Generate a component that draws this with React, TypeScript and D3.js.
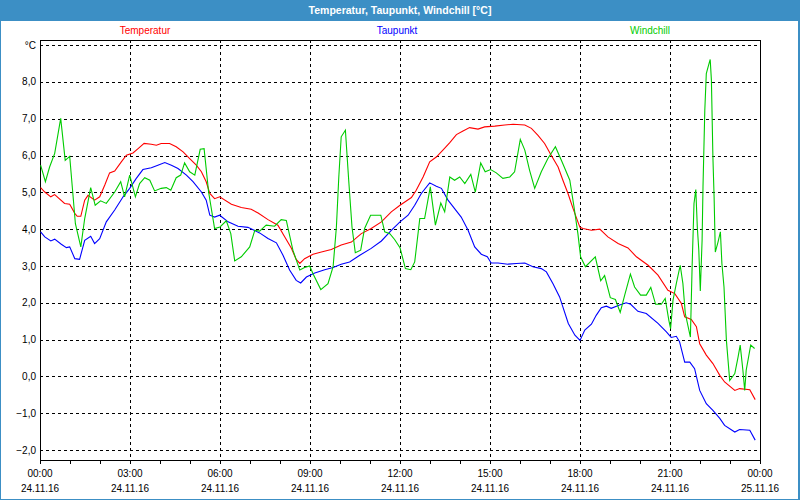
import * as d3 from "d3";
import { useEffect, useRef } from "react";

// hour of day (0-24), value in °C
const temperatur: [number, number][] = [
  [0.02, 5.13], [0.16, 5.01], [0.36, 4.88], [0.49, 4.94], [0.82, 4.7], [0.99, 4.68], [1.16, 4.43], [1.24, 4.35],
  [1.36, 4.35], [1.49, 4.79], [1.6, 4.92], [1.82, 4.79], [1.99, 4.88], [2.16, 5.2], [2.32, 5.53], [2.49, 5.58],
  [2.71, 5.83], [2.88, 6.01], [3.1, 6.07], [3.27, 6.19], [3.47, 6.33], [3.71, 6.31], [3.88, 6.28], [4.04, 6.33],
  [4.32, 6.33], [4.54, 6.24], [4.77, 6.1], [4.99, 5.92], [5.21, 5.74], [5.38, 5.56], [5.54, 5.29], [5.66, 4.97],
  [5.82, 4.83], [5.99, 4.88], [6.38, 4.68], [6.71, 4.59], [7.04, 4.54], [7.27, 4.44], [7.6, 4.26], [7.93, 4.11],
  [8.16, 3.79], [8.38, 3.48], [8.54, 3.18], [8.66, 3.07], [8.82, 3.2], [9.1, 3.32], [9.38, 3.38], [9.71, 3.45],
  [10.04, 3.57], [10.38, 3.65], [10.71, 3.88], [11.04, 4.02], [11.38, 4.2], [11.71, 4.47], [12.0, 4.65],
  [12.16, 4.74], [12.38, 4.86], [12.54, 5.06], [12.77, 5.42], [12.99, 5.83], [13.21, 5.96], [13.43, 6.15],
  [13.66, 6.35], [13.88, 6.57], [14.1, 6.67], [14.32, 6.76], [14.6, 6.72], [14.82, 6.78], [15.16, 6.8],
  [15.49, 6.83], [15.77, 6.85], [16.16, 6.83], [16.38, 6.74], [16.6, 6.55], [16.82, 6.33], [17.04, 6.01],
  [17.27, 5.69], [17.43, 5.33], [17.6, 4.97], [17.77, 4.56], [17.93, 4.2], [18.0, 4.05], [18.1, 4.02],
  [18.38, 3.97], [18.66, 4.0], [18.93, 3.79], [19.27, 3.61], [19.6, 3.49], [19.88, 3.25], [20.27, 3.02],
  [20.6, 2.75], [20.93, 2.34], [21.16, 2.25], [21.38, 1.98], [21.49, 1.62], [21.71, 1.55], [21.88, 1.35],
  [21.99, 0.89], [22.21, 0.58], [22.43, 0.35], [22.66, 0.03], [22.82, -0.15], [23.16, -0.38], [23.32, -0.33],
  [23.66, -0.36], [23.84, -0.63],
];

const taupunkt: [number, number][] = [
  [0.02, 3.93], [0.16, 3.79], [0.36, 3.68], [0.49, 3.73], [0.71, 3.59], [0.88, 3.5], [0.99, 3.52], [1.16, 3.2],
  [1.32, 3.18], [1.49, 3.7], [1.69, 3.81], [1.82, 3.61], [1.99, 3.74], [2.21, 4.2], [2.49, 4.52], [2.77, 4.88],
  [2.99, 5.11], [3.21, 5.38], [3.43, 5.62], [3.71, 5.67], [3.93, 5.74], [4.16, 5.81], [4.38, 5.74], [4.6, 5.65],
  [4.88, 5.47], [5.1, 5.29], [5.38, 5.01], [5.54, 4.79], [5.66, 4.38], [5.82, 4.33], [5.99, 4.38], [6.27, 4.2],
  [6.6, 4.08], [6.93, 4.05], [7.32, 3.9], [7.6, 3.75], [7.88, 3.63], [8.1, 3.29], [8.32, 2.89], [8.54, 2.61],
  [8.69, 2.54], [8.88, 2.7], [9.16, 2.81], [9.49, 2.9], [9.77, 2.96], [10.04, 3.05], [10.32, 3.11],
  [10.66, 3.29], [11.04, 3.48], [11.38, 3.68], [11.71, 3.97], [12.0, 4.2], [12.27, 4.38], [12.49, 4.65],
  [12.71, 4.97], [12.99, 5.26], [13.21, 5.17], [13.38, 5.11], [13.6, 4.79], [13.82, 4.56], [14.04, 4.33],
  [14.27, 3.97], [14.49, 3.52], [14.71, 3.32], [14.91, 3.25], [15.04, 3.08], [15.27, 3.08], [15.6, 3.05],
  [15.88, 3.07], [16.16, 3.08], [16.43, 2.98], [16.71, 2.93], [16.88, 2.84], [17.1, 2.52], [17.32, 2.16],
  [17.61, 1.44], [17.83, 1.12], [18.0, 0.98], [18.16, 1.26], [18.38, 1.42], [18.54, 1.66], [18.71, 1.87],
  [18.88, 1.91], [19.04, 1.85], [19.32, 1.94], [19.54, 2.0], [19.69, 1.96], [19.93, 1.77], [20.21, 1.71],
  [20.6, 1.44], [20.88, 1.21], [21.04, 1.06], [21.21, 1.09], [21.32, 0.94], [21.49, 0.39], [21.66, 0.39],
  [21.82, 0.21], [21.99, -0.38], [22.21, -0.74], [22.43, -0.92], [22.66, -1.14], [22.82, -1.33],
  [23.16, -1.51], [23.32, -1.44], [23.66, -1.46], [23.84, -1.73],
];

const windchill: [number, number][] = [
  [0.02, 5.74], [0.18, 5.29], [0.32, 5.69], [0.49, 6.06], [0.69, 7.01], [0.84, 5.87], [0.99, 5.98], [1.18, 4.15],
  [1.36, 3.52], [1.49, 4.29], [1.69, 5.13], [1.84, 4.65], [2.02, 4.77], [2.21, 4.7], [2.49, 5.01], [2.69, 5.29],
  [2.82, 4.88], [2.99, 5.47], [3.18, 4.88], [3.32, 5.24], [3.49, 5.4], [3.66, 5.33], [3.82, 5.04], [4.04, 5.11],
  [4.21, 5.13], [4.36, 5.06], [4.54, 5.4], [4.69, 5.47], [4.82, 5.8], [4.99, 5.56], [5.16, 5.47], [5.34, 6.17],
  [5.47, 6.19], [5.62, 5.01], [5.82, 4.02], [6.0, 4.06], [6.21, 4.23], [6.36, 3.88], [6.49, 3.14], [6.71, 3.25],
  [6.99, 3.52], [7.16, 3.97], [7.32, 3.95], [7.54, 4.11], [7.82, 4.08], [8.04, 4.26], [8.21, 4.24], [8.43, 3.43],
  [8.66, 2.89], [8.82, 2.96], [8.99, 3.0], [9.1, 2.79], [9.36, 2.36], [9.6, 2.52], [9.77, 2.98], [9.88, 4.06],
  [9.96, 5.42], [10.04, 6.51], [10.18, 6.69], [10.29, 5.33], [10.4, 4.06], [10.51, 3.36], [10.69, 3.43],
  [10.82, 4.02], [11.02, 4.38], [11.36, 4.38], [11.49, 3.93], [11.66, 3.88], [11.82, 3.72], [12.0, 3.5],
  [12.18, 2.93], [12.36, 2.9], [12.49, 3.11], [12.66, 4.29], [12.82, 4.29], [13.01, 5.15], [13.18, 4.11],
  [13.36, 4.71], [13.49, 4.47], [13.66, 5.42], [13.82, 5.33], [13.99, 5.42], [14.16, 5.24], [14.36, 5.49],
  [14.51, 5.01], [14.69, 5.8], [14.84, 5.56], [15.02, 5.62], [15.21, 5.53], [15.43, 5.38], [15.66, 5.42],
  [15.82, 5.56], [16.01, 6.44], [16.16, 6.15], [16.32, 5.6], [16.49, 5.11], [16.71, 5.56], [16.93, 5.92],
  [17.18, 6.24], [17.4, 5.83], [17.66, 5.33], [17.8, 4.61], [17.93, 3.88], [18.02, 3.25], [18.18, 2.98],
  [18.51, 3.25], [18.69, 2.6], [18.82, 2.74], [19.01, 2.14], [19.18, 2.09], [19.34, 1.74], [19.49, 2.21],
  [19.68, 2.78], [19.82, 2.43], [20.02, 2.21], [20.21, 2.21], [20.36, 2.42], [20.52, 1.96], [20.71, 1.96],
  [20.84, 2.12], [20.96, 1.53], [21.02, 1.3], [21.1, 2.07], [21.21, 2.52], [21.34, 3.02], [21.43, 2.52],
  [21.51, 1.71], [21.68, 1.07], [21.74, 3.07], [21.8, 4.7], [21.86, 5.08], [21.91, 4.06], [21.96, 3.43],
  [22.01, 2.32], [22.07, 3.7], [22.1, 5.15], [22.16, 7.23], [22.21, 8.23], [22.3, 8.5], [22.34, 8.61],
  [22.38, 8.05], [22.43, 5.96], [22.47, 4.88], [22.51, 3.38], [22.6, 3.65], [22.68, 3.93], [22.73, 3.07],
  [22.8, 2.43], [22.88, 0.98], [22.99, -0.11], [23.16, 0.08], [23.27, 0.53], [23.34, 0.85], [23.43, 0.17],
  [23.49, -0.38], [23.54, 0.17], [23.62, 0.53], [23.69, 0.85], [23.82, 0.76],
];

const seriesNames = ["Temperatur", "Taupunkt", "Windchill"];
const seriesColors = ["#ff0000", "#0000ff", "#00cc00"];

const xTickHours = [0, 3, 6, 9, 12, 15, 18, 21, 24];
const xTimeLabels = ["00:00", "03:00", "06:00", "09:00", "12:00", "15:00", "18:00", "21:00", "00:00"];
const xDateLabels = ["24.11.16", "24.11.16", "24.11.16", "24.11.16", "24.11.16", "24.11.16", "24.11.16", "24.11.16", "25.11.16"];
const yTicks = [-2, -1, 0, 1, 2, 3, 4, 5, 6, 7, 8, 9];

const title = "Temperatur, Taupunkt, Windchill [°C]";

const App = () => {
  const ref = useRef<SVGSVGElement>(null);

  useEffect(() => {
    const svg = d3.select(ref.current);
    svg.selectAll("*").remove();

    const W = 800, H = 500;
    const margin = { top: 40, right: 40, bottom: 40, left: 40 };
    const font = "'Liberation Sans', Arial, sans-serif";

    svg.append("rect").attr("width", W).attr("height", H).attr("fill", "#fff");

    // window title bar
    svg.append("rect").attr("x", 0).attr("y", 0).attr("width", W).attr("height", 21).attr("fill", "#3c8fc5");
    svg
      .append("text")
      .attr("x", W / 2)
      .attr("y", 14)
      .attr("text-anchor", "middle")
      .attr("fill", "#fff")
      .style("font", `bold 10.5px ${font}`)
      .text(title);
    // window frame
    svg.append("line").attr("x1", 0.5).attr("x2", 0.5).attr("y1", 0).attr("y2", H).attr("stroke", "#3c8fc5");
    svg.append("line").attr("x1", W - 1).attr("x2", W - 1).attr("y1", 0).attr("y2", H).attr("stroke", "#3c8fc5").attr("stroke-width", 2);
    svg.append("line").attr("x1", 0).attr("x2", W).attr("y1", H - 0.5).attr("y2", H - 0.5).attr("stroke", "#3c8fc5");

    const x = d3.scaleLinear().domain([0, 24]).range([margin.left, W - margin.right]);
    const y = d3.scaleLinear().domain([-2.27, 9.14]).range([H - margin.bottom, margin.top]);

    // legend
    const legendX = [145, 397, 650];
    seriesNames.forEach((n, i) => {
      svg
        .append("text")
        .attr("x", legendX[i])
        .attr("y", 34)
        .attr("text-anchor", "middle")
        .attr("fill", seriesColors[i])
        .style("font", `10px ${font}`)
        .text(n);
    });

    // grid
    const grid = svg.append("g").attr("stroke", "#000").attr("stroke-dasharray", "3,3").attr("shape-rendering", "crispEdges");
    yTicks.forEach((t) => {
      grid.append("line").attr("x1", x(0)).attr("x2", x(24)).attr("y1", Math.round(y(t)) + 0.5).attr("y2", Math.round(y(t)) + 0.5);
    });
    xTickHours.slice(1, -1).forEach((h) => {
      grid.append("line").attr("x1", x(h) + 0.5).attr("x2", x(h) + 0.5).attr("y1", y.range()[1]).attr("y2", y.range()[0]);
    });

    // frame of plot area
    const frame = svg.append("g").attr("stroke", "#000").attr("shape-rendering", "crispEdges");
    frame.append("line").attr("x1", x(0) + 0.5).attr("x2", x(0) + 0.5).attr("y1", margin.top).attr("y2", H - margin.bottom);
    frame.append("line").attr("x1", x(24) + 0.5).attr("x2", x(24) + 0.5).attr("y1", margin.top).attr("y2", H - margin.bottom);
    frame.append("line").attr("x1", x(0)).attr("x2", x(24)).attr("y1", margin.top + 0.5).attr("y2", margin.top + 0.5);
    frame.append("line").attr("x1", x(0)).attr("x2", x(24) + 1).attr("y1", H - margin.bottom + 0.5).attr("y2", H - margin.bottom + 0.5);
    d3.range(0, 25).forEach((h) => {
      frame.append("line").attr("x1", x(h) + 0.5).attr("x2", x(h) + 0.5).attr("y1", H - margin.bottom).attr("y2", H - margin.bottom + 4);
    });

    // y labels
    yTicks.forEach((t) => {
      svg
        .append("text")
        .attr("x", 36)
        .attr("y", y(t) + 3.5)
        .attr("text-anchor", "end")
        .attr("fill", "#000")
        .style("font", `10px ${font}`)
        .text(t === 9 ? "°C" : d3.format(".1f")(t).replace(".", ","));
    });

    // x labels
    xTickHours.forEach((h, i) => {
      svg
        .append("text")
        .attr("x", x(h))
        .attr("y", 477)
        .attr("text-anchor", "middle")
        .attr("fill", "#000")
        .style("font", `10px ${font}`)
        .text(xTimeLabels[i]);
      svg
        .append("text")
        .attr("x", x(h))
        .attr("y", 492)
        .attr("text-anchor", "middle")
        .attr("fill", "#000")
        .style("font", `10px ${font}`)
        .text(xDateLabels[i]);
    });

    // lines
    const line = d3
      .line<[number, number]>()
      .x((d) => x(d[0]))
      .y((d) => y(d[1]));
    [temperatur, taupunkt, windchill].forEach((s, i) => {
      svg
        .append("path")
        .datum(s)
        .attr("d", line)
        .attr("fill", "none")
        .attr("stroke", seriesColors[i])
        .attr("stroke-width", 1.1);
    });
  }, []);

  return <svg ref={ref} width={800} height={500} style={{ position: "absolute", left: 0, top: 0 }} />;
};

export default App;
